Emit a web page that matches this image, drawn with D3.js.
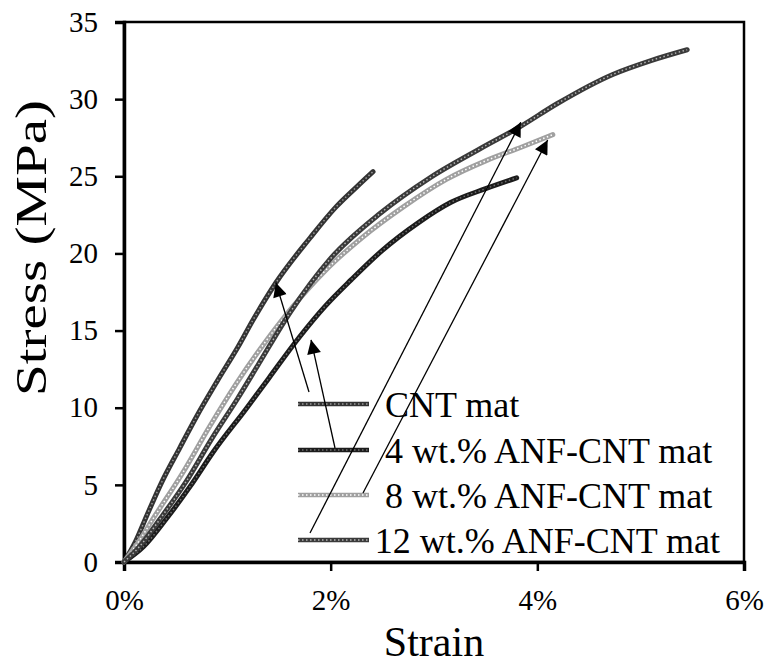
<!DOCTYPE html>
<html>
<head>
<meta charset="utf-8">
<script src="https://cdn.jsdelivr.net/npm/d3@7"></script>
<style>
  html, body { margin: 0; padding: 0; background: #fff; }
  svg { display: block; font-family: "Liberation Serif", "Times New Roman", serif; }
</style>
</head>
<body>
<svg id="chart" width="769" height="668"></svg>
<script>
// Tensile stress-strain curves of CNT mats with aramid nanofiber (ANF) content
const seriesNames = ["CNT mat", "4 wt.% ANF-CNT mat", "8 wt.% ANF-CNT mat", "12 wt.% ANF-CNT mat"];

// strain (%) / stress (MPa) for each mat
const cntStrain  = [0, 0.11, 0.22, 0.36, 0.54, 0.70, 0.90, 1.10, 1.25, 1.47, 1.80, 2.05, 2.25, 2.41];
const cntStress  = [0, 1.3, 3.0, 5.1, 7.4, 9.4, 11.7, 13.9, 15.7, 18.1, 21.0, 23.0, 24.3, 25.3];

const anf4Strain = [0, 0.19, 0.41, 0.64, 0.86, 1.19, 1.40, 1.70, 1.95, 2.20, 2.50, 2.85, 3.16, 3.50, 3.80];
const anf4Stress = [0, 1.0, 2.8, 4.9, 7.1, 10.0, 11.9, 14.6, 16.6, 18.3, 20.2, 22.0, 23.3, 24.2, 24.9];

const anf8Strain = [0, 0.12, 0.30, 0.57, 0.83, 1.09, 1.35, 1.64, 1.95, 2.30, 2.70, 3.12, 3.50, 3.85, 4.15];
const anf8Stress = [0, 1.1, 3.0, 5.8, 8.8, 11.6, 14.1, 16.6, 18.9, 21.0, 23.0, 24.8, 26.0, 26.9, 27.7];

const anf12Strain = [0, 0.15, 0.35, 0.60, 0.85, 1.10, 1.30, 1.61, 1.99, 2.48, 2.96, 3.45, 3.83, 4.19, 4.73, 5.10, 5.45];
const anf12Stress = [0, 1.0, 2.8, 5.2, 8.0, 10.6, 12.8, 16.2, 19.6, 22.6, 24.9, 26.8, 28.2, 29.7, 31.6, 32.5, 33.2];

const strainTicks = [0, 2, 4, 6];
const stressTicks = [0, 5, 10, 15, 20, 25, 30, 35];

// points on each curve that the legend arrows lead to
const arrowStrain = [1.47, 1.81, 4.10, 3.84];
const arrowStress = [18.1, 14.4, 27.35, 28.5];

const series = [
  { name: seriesNames[0], x: cntStrain,   y: cntStress,   color: "#333333", dot: "#9a9a9a" },
  { name: seriesNames[1], x: anf4Strain,  y: anf4Stress,  color: "#1c1c1c", dot: "#707070" },
  { name: seriesNames[2], x: anf8Strain,  y: anf8Stress,  color: "#a0a0a0", dot: "#ffffff" },
  { name: seriesNames[3], x: anf12Strain, y: anf12Stress, color: "#3a3a3a", dot: "#b4b4b4" }
];

const svg = d3.select("#chart");
const plot = { left: 124, right: 744, top: 22, bottom: 562 };

const x = d3.scaleLinear().domain([0, 6]).range([plot.left, plot.right]);
const y = d3.scaleLinear().domain([0, 35]).range([plot.bottom, plot.top]);

// frame
svg.append("rect")
  .attr("x", plot.left).attr("y", plot.top)
  .attr("width", plot.right - plot.left).attr("height", plot.bottom - plot.top)
  .attr("fill", "none").attr("stroke", "#000").attr("stroke-width", 2.5);

// axes
const xAxis = d3.axisBottom(x).tickValues(strainTicks).tickSize(9).tickPadding(18)
  .tickFormat(d => d + "%");
const yAxis = d3.axisLeft(y).tickValues(stressTicks).tickSize(9).tickPadding(17);

const gx = svg.append("g").attr("transform", `translate(0,${plot.bottom})`).call(xAxis);
const gy = svg.append("g").attr("transform", `translate(${plot.left},0)`).call(yAxis);
[gx, gy].forEach(g => {
  g.select(".domain").attr("stroke", "#000").attr("stroke-width", 3.5);
  g.selectAll(".tick line").attr("stroke", "#000").attr("stroke-width", 2.5);
  g.selectAll(".tick text").attr("fill", "#000")
    .style("font-family", "'Liberation Serif', serif").style("font-size", "29px");
});
gx.selectAll(".tick text").attr("dy", "0.71em");

// axis titles
svg.append("text")
  .attr("x", (plot.left + plot.right) / 2).attr("y", 656)
  .attr("text-anchor", "middle").style("font-size", "42px").text("Strain");
svg.append("text")
  .attr("transform", "translate(46,248) rotate(-90)")
  .attr("text-anchor", "middle").style("font-size", "44px")
  .attr("textLength", 296).attr("lengthAdjust", "spacingAndGlyphs")
  .text("Stress (MPa)");

// curves
const line = d3.line().x(d => x(d[0])).y(d => y(d[1])).curve(d3.curveMonotoneX);
const curves = svg.append("g");
series.forEach(s => {
  const pts = s.x.map((v, i) => [v, s.y[i]]);
  curves.append("path").datum(pts).attr("d", line)
    .attr("fill", "none").attr("stroke", s.color).attr("stroke-width", 5)
    .attr("stroke-linecap", "round");
  curves.append("path").datum(pts).attr("d", line)
    .attr("fill", "none").attr("stroke", s.dot).attr("stroke-width", 1.5)
    .attr("stroke-dasharray", "1.5 2.5");
});

// legend
const legend = { lineX0: 298, lineX1: 369, textX: 385, textRight: 720, rowY: [404, 450, 495, 540] };
const lg = svg.append("g");
series.forEach((s, i) => {
  const yy = legend.rowY[i];
  lg.append("line").attr("x1", legend.lineX0).attr("x2", legend.lineX1).attr("y1", yy).attr("y2", yy)
    .attr("stroke", s.color).attr("stroke-width", 4.5);
  lg.append("line").attr("x1", legend.lineX0).attr("x2", legend.lineX1).attr("y1", yy).attr("y2", yy)
    .attr("stroke", s.dot).attr("stroke-width", 1.5).attr("stroke-dasharray", "1.5 2.5");
  const t = lg.append("text").attr("y", yy).attr("dy", "0.35em")
    .style("font-size", "36px").attr("fill", "#000").text(s.name);
  const w = t.node().getComputedTextLength();
  t.attr("x", Math.min(legend.textX, legend.textRight - w));
});

// arrows from the legend to their curves
svg.append("defs").append("marker").attr("id", "head")
  .attr("viewBox", "0 0 10 10").attr("refX", 10).attr("refY", 5)
  .attr("markerWidth", 17).attr("markerHeight", 14).attr("markerUnits", "userSpaceOnUse")
  .attr("orient", "auto")
  .append("path").attr("d", "M0,0 L10,5 L0,10 Z").attr("fill", "#000");

// arrow tails, anchored near each legend row
const arrowTail = [[309, 392], [335, 448], [363, 493], [310, 533]];
const ag = svg.append("g");
arrowTail.forEach((p, i) => {
  ag.append("line")
    .attr("x1", p[0]).attr("y1", p[1])
    .attr("x2", x(arrowStrain[i])).attr("y2", y(arrowStress[i]))
    .attr("stroke", "#000").attr("stroke-width", 1.3)
    .attr("marker-end", "url(#head)");
});
</script>
</body>
</html>
